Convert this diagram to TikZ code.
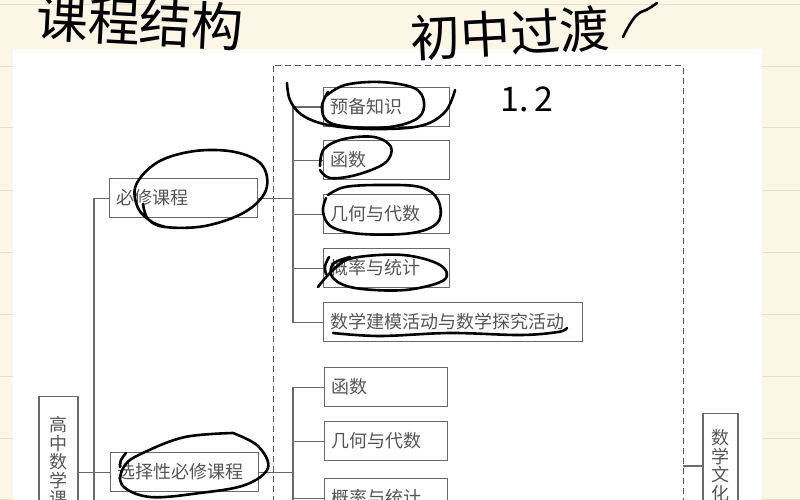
\documentclass[tikz,border=0pt]{standalone}
\usepackage{fontspec}
\newfontfamily\cjk{Noto Sans CJK SC}
\definecolor{cream}{HTML}{FBF6E6}
\definecolor{rulec}{HTML}{E7DFCA}
\definecolor{linec}{HTML}{6A6A6A}
\definecolor{textc}{HTML}{555555}
\begin{document}
\begin{tikzpicture}[x=1pt,y=-1pt,
  box/.style={draw=linec, line width=1.1pt, minimum height=39pt, inner xsep=7pt, inner ysep=0pt,
    text width=#1, align=left, anchor=north west, text=textc, font=\cjk\fontsize{18}{18}\selectfont},
  vbox/.style={draw=linec, line width=1.1pt, minimum width=#1, inner xsep=0pt, align=center,
    anchor=north, text=textc, font=\cjk\fontsize{18}{18.5}\selectfont},
  conn/.style={draw=linec, line width=1.1pt},
  frame/.style={draw=textc, line width=1pt, dash pattern=on 6pt off 4pt},
  hand/.style={draw=black, line width=2.6pt, line cap=round, line join=round},
  handtext/.style={text=black, font=\cjk\fontsize{#1}{#1}\selectfont, inner sep=0pt}]
\useasboundingbox (0,0) rectangle (800,500);
\fill[cream] (0,0) rectangle (800,500);
\foreach \yy in {5,67,128,190,252,314,376,438,499} \draw[rulec, line width=1pt] (0,\yy) -- (800,\yy);
\fill[white] (13,49) rectangle (762,520);
% dashed frame
\draw[frame] (273,66) rectangle (683,700);
% first group
\node[box=112pt] (a1) at (323,87) {预备知识};
\node[box=112pt] (a2) at (323,140) {函数};
\node[box=112pt] (a3) at (323,194) {几何与代数};
\node[box=112pt] (a4) at (323,248) {概率与统计};
\node[box=245pt] (a5) at (323,302) {数学建模活动与数学探究活动};
\node[box=134pt] (bx1) at (109,178) {必修课程};
% second group
\node[box=109pt] (c1) at (324,367) {函数};
\node[box=109pt] (c2) at (324,421) {几何与代数};
\node[box=109pt] (c3) at (324,478) {概率与统计};
\node[box=134pt] (bx2) at (110,452) {选择性必修课程};
% vertical boxes
\node[vbox=39pt, inner ysep=20pt] (gz) at (58.5,396) {高\\中\\数\\学\\课};
\node[vbox=35pt, inner ysep=16pt] (wh) at (720.5,413) {数\\学\\文\\化};
% bus coordinates
\coordinate (b0) at (94,0);
\coordinate (b1) at (293,0);
\coordinate (b0end) at (94,650);
\coordinate (b2end) at (293,650);
\coordinate (dr) at (683,466);
% connectors group 1
\draw[conn] (a1.west) -- (a1.west -| b1) -- (a5.west -| b1) -- (a5.west);
\foreach \n in {a2,a3,a4} \draw[conn] (\n.west) -- (\n.west -| b1);
\draw[conn] (bx1.east) -- (bx1.east -| b1);
% left bus
\draw[conn] (bx1.west) -- (bx1.west -| b0) -- (b0end);
\draw[conn] (gz.east |- bx2.west) -- (bx2.west);
% group 2
\draw[conn] (bx2.east) -- (bx2.east -| b1);
\draw[conn] (c1.west) -- (c1.west -| b1) -- (b2end);
\foreach \n in {c2,c3} \draw[conn] (\n.west) -- (\n.west -| b1);
\draw[conn] (dr) -- (dr -| wh.west);
% handwriting text
\node[handtext=52, rotate=-3] (h1) at (140,22) {课程结构};
\node[handtext=50, rotate=3] (h2) at (510,33) {初中过渡};
\node[handtext=34] (h3) at (527,99) {1.\,2};
\draw[hand] plot[smooth, tension=0.7] coordinates {(623,37) (630,24) (638,14) (648,9) (657,3)};
% handwritten loops
\draw[hand] plot[smooth, tension=0.6] coordinates {(143,204) (148,219) (165,227) (205,226) (245,212) (266,190) (262,165) (235,152) (195,151) (158,162) (136,185) (138,208) (152,222) (166,227)};
\draw[hand] plot[smooth, tension=0.6] coordinates {(326,96) (345,85) (380,82) (414,88) (424,102) (418,118) (390,127) (350,127) (327,121) (322,106) (328,92)};
\draw[hand] plot[smooth, tension=0.6] coordinates {(287,83) (290,100) (302,115) (328,125) (372,129) (420,126) (445,112) (455,90)};
\draw[hand] plot[smooth, tension=0.6] coordinates {(320,166) (324,149) (344,139) (374,137) (391,147) (385,163) (356,175) (330,178) (320,170)};
\draw[hand] plot[smooth, tension=0.6] coordinates {(328,195) (345,187) (380,185) (420,187) (438,200) (438,222) (412,233) (362,234) (332,227) (323,212) (326,198)};
\draw[hand] plot[smooth, tension=0.6] coordinates {(318,287) (333,270) (353,258) (403,255) (440,265) (444,280) (405,290) (355,288) (333,278) (333,264) (350,257)};
\draw[hand] plot[smooth, tension=0.6] coordinates {(329,257) (325,266) (326,274)};
\draw[hand] plot[smooth, tension=0.6] coordinates {(333,333) (380,336) (450,333) (520,335) (558,332) (567,328)};
\draw[hand] plot[smooth, tension=0.6] coordinates {(233,433) (258,446) (268,468) (245,485) (200,493) (150,497) (122,485) (125,465) (145,452) (185,437) (233,433)};
\draw[hand] plot[smooth, tension=0.6] coordinates {(126,453) (121,460) (120,467)};
\end{tikzpicture}
\end{document}
